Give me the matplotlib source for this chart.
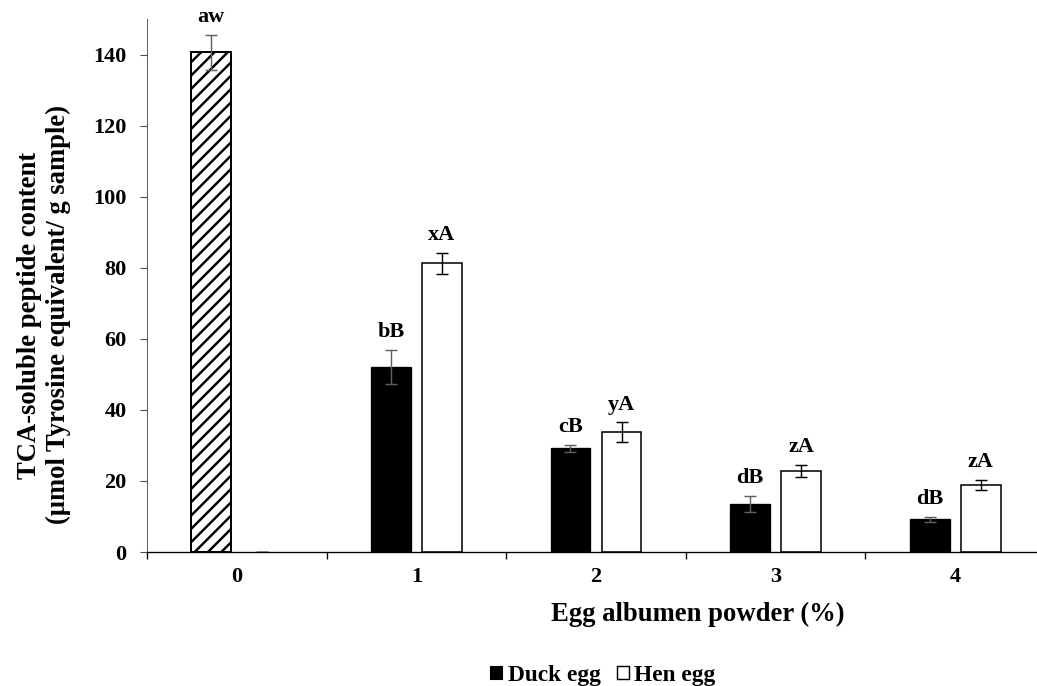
import numpy as np
import matplotlib
matplotlib.use("Agg")
import matplotlib.pyplot as plt
from matplotlib.patches import Patch

plt.rcParams["font.family"] = "Liberation Serif"
plt.rcParams["font.weight"] = "bold"
plt.rcParams["hatch.linewidth"] = 2.2

levels = ["0", "1", "2", "3", "4"]
duck = [140.6, 52.1, 29.2, 13.5, 9.2]
duck_err = [5.0, 4.7, 1.0, 2.3, 0.7]
hen = [0.0, 81.2, 33.7, 22.9, 18.9]
hen_err = [0.0, 2.9, 2.8, 1.7, 1.5]
duck_letters = ["aw", "bB", "cB", "dB", "dB"]
hen_letters = ["", "xA", "yA", "zA", "zA"]

W, H, DPI = 1037, 686, 80
fig = plt.figure(figsize=(W / DPI, H / DPI), dpi=DPI)
ax = fig.add_axes([147 / W, 1 - 552 / H, (1045 - 147) / W, (552 - 19) / H])

x = np.arange(len(levels))
width = 0.222
off = 0.142

duck_bars = ax.bar(x - off, duck, width, color="black", edgecolor="black",
                   linewidth=1.2, zorder=2)
# control sample (0 %) is shown hatched
duck_bars[0].set_facecolor("white")
duck_bars[0].set_hatch("//")
duck_bars[0].set_linewidth(1.8)
hen_bars = ax.bar(x + off, hen, width, color="white", edgecolor="black",
                  linewidth=1.4, zorder=2)
for b, v in zip(hen_bars, hen):
    if v == 0:
        b.set_linewidth(0)

ax.errorbar(x - off, duck, yerr=duck_err, fmt="none", ecolor="#606060",
            elinewidth=1.3, capsize=5, capthick=1.3, zorder=3)
ax.errorbar(x + off, hen, yerr=hen_err, fmt="none", ecolor="black",
            elinewidth=1.3, capsize=5, capthick=1.3, zorder=3)

for xi, v, e, lab in zip(x - off, duck, duck_err, duck_letters):
    ax.annotate(lab, (xi, v + e), xytext=(0, 16), textcoords="offset points",
                ha="center", va="center", fontsize=20, fontweight="bold")
for xi, v, e, lab in zip(x + off, hen, hen_err, hen_letters):
    if lab:
        ax.annotate(lab, (xi, v + e), xytext=(0, 16), textcoords="offset points",
                    ha="center", va="center", fontsize=20, fontweight="bold")

ax.set_xlim(-0.5, 4.5)
ax.set_ylim(0, 150)
ax.set_yticks(range(0, 141, 20))
ax.set_xticks(x)
ax.set_xticklabels(levels)
ax.set_xticks(np.arange(-0.5, 5, 1), minor=True)
ax.tick_params(axis="x", which="major", length=0, pad=13.5, labelsize=20)
ax.tick_params(axis="x", which="minor", length=6.3, width=1.2, direction="out")
ax.tick_params(axis="y", length=6.3, width=1.0, pad=12, labelsize=20,
               color="#4d4d4d")
ax.spines[["top", "right"]].set_visible(False)
ax.spines["left"].set_color("#4d4d4d")
ax.spines["bottom"].set_linewidth(1.2)

fig.text(698 / W, 1 - 621 / H, "Egg albumen powder (%)", ha="center",
         va="baseline", fontsize=24, fontweight="bold")
fig.text(44 / W, 1 - 315 / H,
         "TCA-soluble peptide content\n(µmol Tyrosine equivalent/ g sample)",
         rotation=90, ha="center", va="center", fontsize=24,
         fontweight="bold", linespacing=1.2)

handles = [Patch(facecolor="black", edgecolor="black"),
           Patch(facecolor="white", edgecolor="black", linewidth=1.3)]
fig.legend(handles, ["Duck egg", "Hen egg"], loc="center",
           bbox_to_anchor=(603 / W, 1 - 675 / H), ncol=2, frameon=False,
           fontsize=21, handlelength=0.5, handleheight=0.5,
           handletextpad=0.25, columnspacing=0.7, borderpad=0,
           borderaxespad=0)

fig.savefig("out.png", dpi=DPI)
